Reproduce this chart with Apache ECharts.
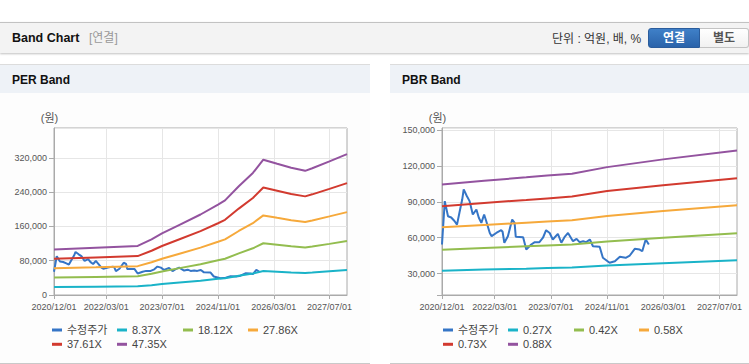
<!DOCTYPE html>
<html><head><meta charset="utf-8">
<script src="https://cdn.jsdelivr.net/npm/echarts@6/dist/echarts.min.js"></script>
<style>
html,body{margin:0;padding:0;width:749px;height:364px;overflow:hidden;background:#fff;font-family:'Liberation Sans',Arial,'Noto Sans CJK KR',sans-serif;}
#hdr{position:absolute;left:0;top:22px;width:749px;height:30px;background:#f3f3f3;border-top:1px solid #c2c2c2;box-shadow:0 1px 2px rgba(0,0,0,0.25);}
#ttl{position:absolute;left:12px;top:0;line-height:31px;font-size:12.5px;font-weight:bold;color:#111;}
#sub{position:absolute;left:89px;top:0;line-height:31px;font-size:12px;color:#999;}
#unit{position:absolute;left:552px;top:0;line-height:32px;font-size:12px;color:#333;}
#b1{position:absolute;left:648px;top:5px;width:52px;height:20px;box-sizing:border-box;background:linear-gradient(#3f80c8,#2a63aa);border:1px solid #2a5c9c;border-radius:3px 0 0 3px;color:#fff;font-weight:bold;font-size:12px;text-align:center;line-height:18px;}
#b2{position:absolute;left:700px;top:5px;width:49px;height:20px;box-sizing:border-box;background:linear-gradient(#ffffff,#f1f1f1);border:1px solid #c3c3c3;border-left:none;border-radius:0 3px 3px 0;color:#555;font-weight:bold;font-size:12px;text-align:center;line-height:18px;}
.panel{position:absolute;top:64px;height:298px;background:#fdfdfd;border-top:1px solid #dcdcdc;border-bottom:1px solid #c9c9c9;}
.ph{height:28px;background:#eef2f7;font-weight:bold;font-size:12px;line-height:31px;padding-left:12px;color:#111;}
#c{position:absolute;left:0;top:0;width:749px;height:364px;}
</style></head>
<body>
<div id="hdr"><div id="ttl">Band Chart</div><div id="sub">[연결]</div><div id="unit">단위 : 억원, 배, %</div><div id="b1">연결</div><div id="b2">별도</div></div>
<div class="panel" style="left:0;width:370px;"><div class="ph">PER Band</div></div>
<div class="panel" style="left:390px;width:359px;"><div class="ph">PBR Band</div></div>
<div id="c"></div>
<script>
// ---- data ----
const xTickLabels = ['2020/12/01','2022/03/01','2023/07/01','2024/11/01','2026/03/01','2027/07/01'];
const perTicks = [0, 80000, 160000, 240000, 320000];
const pbrTicks = [30000, 60000, 90000, 120000, 150000];

const priceDates = ['2020-12-01','2020-12-25','2021-01-22','2021-02-19','2021-03-19','2021-04-10','2021-05-01','2021-05-25','2021-06-07','2021-07-04','2021-07-28','2021-08-25','2021-09-25','2021-10-16','2021-11-07','2021-12-01','2021-12-19','2022-01-19','2022-02-04','2022-03-16','2022-04-28','2022-05-10','2022-05-25','2022-06-25','2022-08-01','2022-08-22','2022-09-01','2022-11-04','2022-12-01','2023-01-13','2023-02-13','2023-03-25','2023-04-25','2023-05-22','2023-06-22','2023-07-19','2023-09-01','2023-10-01','2023-10-28','2023-11-28','2024-01-10','2024-02-10','2024-03-07','2024-04-07','2024-05-04','2024-06-04','2024-07-01','2024-08-28','2024-09-25','2024-11-22','2025-01-07','2025-02-19','2025-04-10','2025-05-16','2025-06-28','2025-08-10','2025-09-01','2025-10-01','2025-10-28'];
const priceValues = [54300,90700,78000,77000,74000,71000,81000,92000,100500,95000,90700,79500,83700,76700,72500,79500,74000,64000,61300,64000,66300,65000,55800,61300,75300,72500,60800,60500,50100,54300,56300,56300,60000,66300,64000,58500,63300,55800,60500,64000,57100,59100,56300,57000,56300,58500,52900,52400,43200,39000,40300,44000,43200,45100,50700,50100,48700,58500,54300];

const perBandDates = ['2020-12-01','2021-12-01','2022-12-01','2023-04-01','2023-07-01','2023-12-01','2024-06-01','2024-11-01','2025-01-01','2025-05-01','2025-09-01','2025-12-01','2026-04-01','2026-08-01','2026-12-01','2027-02-01','2027-07-01','2027-12-01'];
const per837  = [18800,19500,20200,23000,25500,29000,33200,37800,39100,44900,50400,55900,54200,52500,51300,52300,55200,58200];
const per1812 = [40800,42300,43800,49800,55100,62800,71900,81200,84600,97200,109100,120900,117300,113700,111000,113300,119400,125900];
const per2786 = [62700,65000,67400,76500,84700,96500,110600,124200,130000,149500,167700,185900,180300,174800,170600,174200,183600,193600];
const per3761 = [84600,87800,90900,103300,114400,130300,149300,167600,175500,201800,226400,251000,243500,235900,230300,235100,247800,261300];
const per4735 = [106500,110500,114500,130000,144000,164000,188000,211000,221000,254000,285000,316000,306500,297000,290000,296000,312000,329000];

const pbrBandDates = ['2020-12-01','2021-12-01','2022-12-01','2023-06-01','2024-01-01','2024-11-01','2026-03-01','2027-12-01'];
const pbr027 = [32400,33300,34100,34600,35000,36700,38700,41100];
const pbr042 = [50000,51400,52800,53500,54300,56800,60000,63800];
const pbr058 = [68700,70700,72600,73600,74700,78200,82500,87200];
const pbr073 = [86500,89200,91700,93000,94500,99200,104000,109800];
const pbr088 = [104700,107700,110700,112200,113700,119200,125700,133200];

const perNames = ['수정주가','8.37X','18.12X','27.86X','37.61X','47.35X'];
const pbrNames = ['수정주가','0.27X','0.42X','0.58X','0.73X','0.88X'];
const colors = ['#3575c6','#1ab3c8','#93bd4f','#f6a93b','#d23a2f','#93539f'];

// ---- build ----
const FONT = "'Liberation Sans', Arial, 'Noto Sans CJK KR', sans-serif";
const months = [];
for (let y = 2020, m = 12; y < 2027 || (y === 2027 && m <= 12); ) {
  months.push(y + '/' + String(m).padStart(2,'0') + '/01');
  m++; if (m > 12) { m = 1; y++; }
}
const fmt = v => String(v).replace(/\B(?=(\d{3})+(?!\d))/g, ',');
const showTick = (i, v) => xTickLabels.indexOf(v) >= 0;
const grids = [
  {left:54, top:128, width:293, height:167},
  {left:442, top:128, width:295, height:167}
];
function catAxis(gi){
  return {type:'category', gridIndex:gi, data:months, boundaryGap:false, position:'bottom',
    axisLine:{show:true, lineStyle:{color:'#aaa', width:1}},
    axisTick:{show:true, length:4, interval:showTick, lineStyle:{color:'#aaa'}},
    axisLabel:{show:true, interval:showTick, fontSize:9, color:'#555', margin:7, fontFamily:FONT},
    splitLine:{show:true, interval:showTick, lineStyle:{color:'#e6e6e6', width:1}}};
}
function timeAxis(gi){
  return {type:'time', gridIndex:gi, show:false, min:+new Date(2020,11,1), max:+new Date(2027,11,1),
    axisLine:{show:false}, axisTick:{show:false}, axisLabel:{show:false}, splitLine:{show:false}};
}
function valAxis(gi, ticks, extra){
  return Object.assign({type:'value', gridIndex:gi, position:'left',
    name:'(원)', nameLocation:'end', nameGap:5,
    nameTextStyle:{fontSize:11, color:'#555', padding:[0,9,0,0], fontFamily:FONT},
    axisLine:{show:true, lineStyle:{color:'#aaa', width:1}},
    axisTick:{show:true, length:5, lineStyle:{color:'#aaa'}},
    axisLabel:{fontSize:9, color:'#555', margin:7, fontFamily:FONT, showMaxLabel:false,
      formatter: v => ticks.indexOf(v) >= 0 ? fmt(v) : ''},
    splitLine:{show:true, lineStyle:{color:'#e6e6e6', width:1}}}, extra);
}
function line(name, xi, yi, dates, vals, color){
  return {type:'line', name:name, xAxisIndex:xi, yAxisIndex:yi,
    data: dates.map((d,i) => [d, vals[i]]),
    showSymbol:false, symbol:'none', animation:false, silent:true,
    lineStyle:{width:2, color:color}, itemStyle:{color:color},
    emphasis:{disabled:true}};
}
const perVals = [priceValues, per837, per1812, per2786, per3761, per4735];
const pbrVals = [priceValues, pbr027, pbr042, pbr058, pbr073, pbr088];
const series = [];
perNames.forEach((n,i) => series.push(line(n, 1, 0, i === 0 ? priceDates : perBandDates, perVals[i], colors[i])));
pbrNames.forEach((n,i) => series.push(line(n, 3, 1, i === 0 ? priceDates : pbrBandDates, pbrVals[i], colors[i])));

const legends = [];
function addLegends(names, x0){
  const cols = [0, 65, 131, 196];
  names.forEach((n,i) => {
    const row = i < 4 ? 0 : 1, col = i < 4 ? i : i - 4;
    legends.push({data:[n], left: x0 + cols[col], top: row === 0 ? 323.5 : 337.8,
      orient:'horizontal', padding:0, itemGap:0, itemWidth:10, itemHeight:3, icon:'rect',
      textStyle:{fontSize:11, color:'#444', fontFamily:FONT, lineHeight:13}});
  });
}
addLegends(perNames, 52);
addLegends(pbrNames, 443);

const option = {
  animation:false,
  backgroundColor:'transparent',
  grid: grids.map(g => Object.assign({show:true, borderColor:'#aaa', borderWidth:1, backgroundColor:'#fff', outerBoundsMode:'none', containLabel:false}, g)),
  xAxis:[catAxis(0), timeAxis(0), catAxis(1), timeAxis(1)],
  yAxis:[valAxis(0, perTicks, {min:0, max:390000, interval:80000}),
         valAxis(1, pbrTicks, {min:12000, max:152000, splitNumber:5})],
  legend: legends,
  series: series
};
const chart = echarts.init(document.getElementById('c'), null, {renderer:'svg', width:749, height:364});
chart.setOption(option);
</script>
</body></html>
